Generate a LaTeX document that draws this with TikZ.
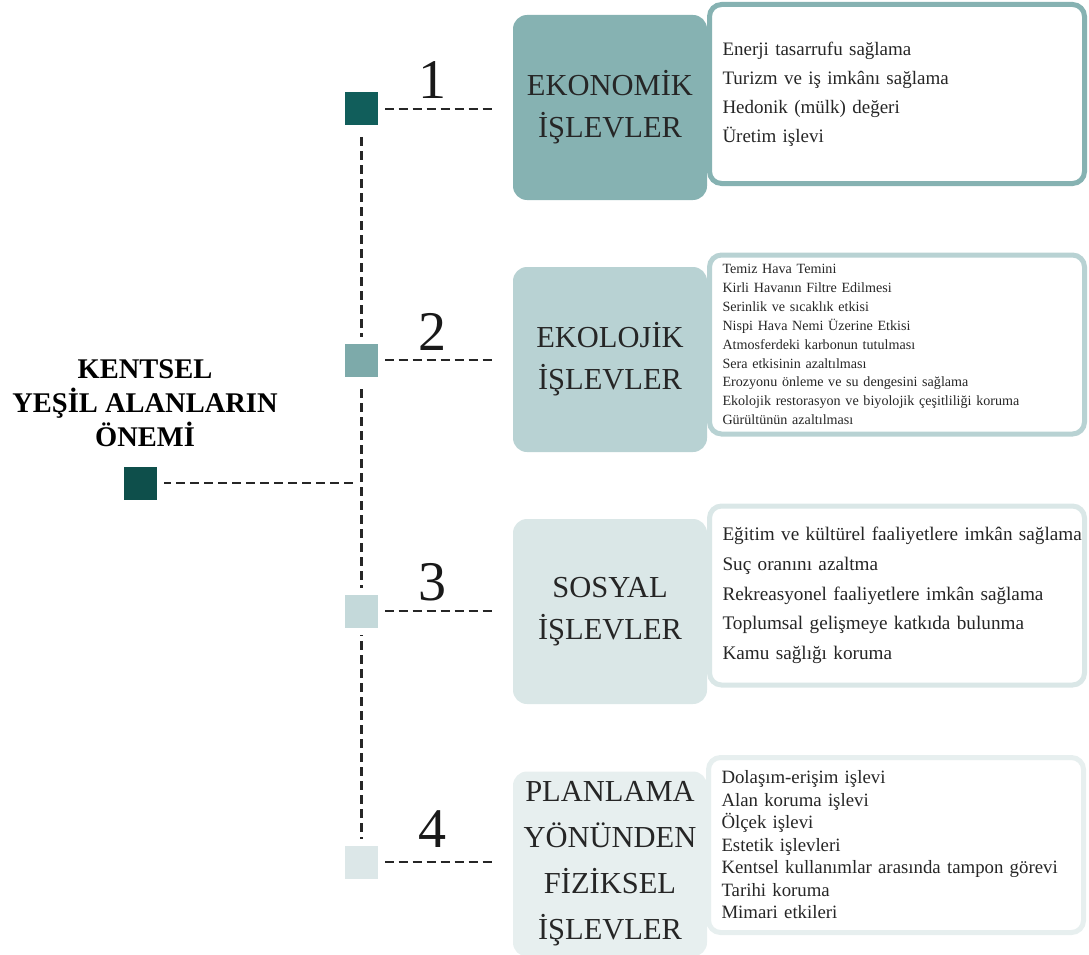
\documentclass[tikz,border=0pt]{standalone}
\usepackage{fontspec}
\setmainfont{Liberation Serif}
\definecolor{tealA}{HTML}{115E5B}
\definecolor{tealC}{HTML}{0E4F4B}
\definecolor{catA}{HTML}{86B2B2}
\definecolor{sqB}{HTML}{7DAAAA}
\definecolor{catB}{HTML}{B8D2D3}
\definecolor{sqC}{HTML}{C4D9DA}
\definecolor{catC}{HTML}{DAE7E7}
\definecolor{sqD}{HTML}{DCE7E8}
\definecolor{catD}{HTML}{E7EFEF}
\begin{document}
\begin{tikzpicture}[x=1pt,y=-1pt,
  dashline/.style={dash pattern=on 9pt off 5pt, line width=2.2pt, black!85},
  marker/.style={minimum size=40pt, inner sep=0pt, draw=white, line width=7pt},
  catbox/.style={rounded corners=14pt, minimum width=194pt, minimum height=185pt,
    inner sep=0pt, align=center, font=\fontsize{30.5}{42}\selectfont, text=black!85},
  listbox/.style={rounded corners=12pt, fill=white, line width=5pt, minimum height=179pt,
    text width=349pt, inner xsep=13pt, inner ysep=0pt, align=left, text=black!85},
  numlabel/.style={font=\fontsize{56}{56}\selectfont, inner sep=0pt, anchor=base, text=black!90}]
\useasboundingbox (0,0) rectangle (1089,955);

% category boxes
\node[catbox, fill=catA] (c1) at (610,107.5) {EKONOMİK\\İŞLEVLER};
\node[catbox, fill=catB] (c2) at (610,359.5) {EKOLOJİK\\İŞLEVLER};
\node[catbox, fill=catC] (c3) at (610,611.5) {SOSYAL\\İŞLEVLER};
\node[catbox, fill=catD, font=\fontsize{30.5}{46}\selectfont] (c4) at (610,864) {PLANLAMA\\YÖNÜNDEN\\FİZİKSEL\\İŞLEVLER};

% item lists
\node[listbox, draw=catA, font=\fontsize{19}{29}\selectfont] (l1) at (897,94)
  {Enerji tasarrufu sağlama\\Turizm ve iş imkânı sağlama\\Hedonik (mülk) değeri\\Üretim işlevi};
\node[listbox, draw=catB, font=\fontsize{14.1}{18.9}\selectfont] (l2) at (897,344.5)
  {Temiz Hava Temini\\Kirli Havanın Filtre Edilmesi\\Serinlik ve sıcaklık etkisi\\Nispi Hava Nemi Üzerine Etkisi\\Atmosferdeki karbonun tutulması\\Sera etkisinin azaltılması\\Erozyonu önleme ve su dengesini sağlama\\Ekolojik restorasyon ve biyolojik çeşitliliği koruma\\Gürültünün azaltılması};
\node[listbox, draw=catC, font=\fontsize{19.2}{29.7}\selectfont] (l3) at (897,595.5)
  {\mbox{Eğitim ve kültürel faaliyetlere imkân sağlama}\\Suç oranını azaltma\\Rekreasyonel faaliyetlere imkân sağlama\\Toplumsal gelişmeye katkıda bulunma\\Kamu sağlığı koruma};
\node[listbox, draw=catD, minimum height=175pt, font=\fontsize{18.8}{22.5}\selectfont] (l4) at (896,845)
  {Dolaşım-erişim işlevi\\Alan koruma işlevi\\Ölçek işlevi\\Estetik işlevleri\\Kentsel kullanımlar arasında tampon görevi\\Tarihi koruma\\Mimari etkileri};

% title
\node[align=center, font=\bfseries\fontsize{28.5}{34}\selectfont, inner sep=0pt] (title) at (145,403)
  {KENTSEL\\YEŞİL ALANLARIN\\ÖNEMİ};

% marker positions
\coordinate (p0) at (140,483);
\coordinate (p1) at (361.5,109);
\coordinate (p2) at (361.5,360);
\coordinate (p3) at (361.5,611);
\coordinate (p4) at (361.5,862);
\coordinate (junction) at (361.5,483);

% dashed connectors
\draw[dashline] (p1) -- (p4);
\draw[dashline, shorten <=22pt, shorten >=6pt] (p0) -- (junction);
\draw[dashline, shorten <=23pt, shorten >=21pt] (p1) -- (c1.west |- p1);
\draw[dashline, shorten <=23pt, shorten >=21pt] (p2) -- (c2.west |- p2);
\draw[dashline, shorten <=23pt, shorten >=21pt] (p3) -- (c3.west |- p3);
\draw[dashline, shorten <=23pt, shorten >=21pt] (p4) -- (c4.west |- p4);

% square markers
\node[marker, fill=tealC] (s0) at (p0) {};
\node[marker, fill=tealA] (s1) at (p1) {};
\node[marker, fill=sqB] (s2) at (p2) {};
\node[marker, fill=sqC] (s3) at (p3) {};
\node[marker, fill=sqD] (s4) at (p4) {};

% numbers
\node[numlabel] (n1) at (432,99) {1};
\node[numlabel] (n2) at (432,350) {2};
\node[numlabel] (n3) at (432,600) {3};
\node[numlabel] (n4) at (432,847) {4};
\end{tikzpicture}
\end{document}
